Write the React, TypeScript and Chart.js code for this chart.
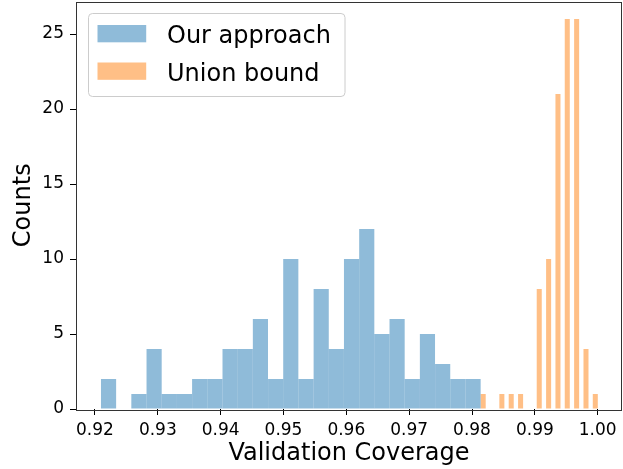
import { useEffect, useRef } from "react";
import { Chart, registerables } from "chart.js";

Chart.register(...registerables);

// Histogram bin centers and counts
const ourBinCenters = [
  0.92216, 0.92458, 0.92699, 0.92941, 0.93183, 0.93424, 0.93666, 0.93908,
  0.9415, 0.94391, 0.94633, 0.94875, 0.95116, 0.95358, 0.956, 0.95841,
  0.96083, 0.96325, 0.96566, 0.96808, 0.9705, 0.97291, 0.97533, 0.97775,
  0.98017,
];
const ourCounts = [2, 0, 1, 4, 1, 1, 2, 2, 4, 4, 6, 2, 10, 2, 8, 4, 10, 12, 5, 6, 2, 5, 3, 2, 2];

const unionBinCenters = [
  0.98178, 0.98327, 0.98475, 0.98624, 0.98773, 0.98922, 0.9907, 0.99219,
  0.99368, 0.99516, 0.99665, 0.99814, 0.99962,
];
const unionCounts = [1, 0, 1, 1, 1, 0, 8, 10, 21, 26, 26, 4, 1];

const xTickLabels = ["0.92", "0.93", "0.94", "0.95", "0.96", "0.97", "0.98", "0.99", "1.00"];
const yTickLabels = ["0", "5", "10", "15", "20", "25"];
const seriesLabels = ["Our approach", "Union bound"];
const xTitle = "Validation Coverage";
const yTitle = "Counts";

const X_MIN = 0.91698;
const X_MAX = 1.00387;
const Y_MIN = 0;
const Y_MAX = 27.17;

const FONT = '"DejaVu Sans", sans-serif';

const spinesPlugin = {
  id: "spines",
  afterDatasetsDraw(chart: any) {
    const { ctx, chartArea } = chart;
    ctx.save();
    ctx.strokeStyle = "#333333";
    ctx.lineWidth = 1;
    ctx.strokeRect(
      Math.round(chartArea.left) + 0.5,
      Math.round(chartArea.top) + 0.5,
      Math.round(chartArea.right - chartArea.left) - 1,
      Math.round(chartArea.bottom - chartArea.top)
    );
    ctx.restore();
  },
};

const legendPlugin = {
  id: "mplLegend",
  afterDraw(chart: any) {
    const { ctx, chartArea } = chart;
    const x0 = chartArea.left + 12.5;
    const y0 = chartArea.top + 12;
    const w = 256.5;
    const h = 83;
    ctx.save();
    ctx.beginPath();
    if (ctx.roundRect) ctx.roundRect(x0, y0, w, h, 4);
    else ctx.rect(x0, y0, w, h);
    ctx.fillStyle = "rgba(255,255,255,0.8)";
    ctx.fill();
    ctx.strokeStyle = "#cccccc";
    ctx.lineWidth = 1;
    ctx.stroke();
    ctx.font = `24px ${FONT}`;
    ctx.textBaseline = "alphabetic";
    ctx.textAlign = "left";
    chart.data.datasets.forEach((ds: any, i: number) => {
      const top = y0 + 11.5 + i * 37.5;
      ctx.fillStyle = ds.backgroundColor;
      ctx.fillRect(x0 + 9, top, 48.7, 17.3);
      ctx.fillStyle = "#000000";
      ctx.fillText(ds.label, x0 + 78.5, top + 18);
    });
    ctx.restore();
  },
};

export default function App() {
  const canvasRef = useRef<HTMLCanvasElement | null>(null);

  useEffect(() => {
    if (!canvasRef.current) return;
    const chart = new Chart(canvasRef.current, {
      type: "bar",
      data: {
        datasets: [
          {
            label: seriesLabels[0],
            data: ourBinCenters.map((x, i) => ({ x, y: ourCounts[i] })),
            backgroundColor: "rgba(31,119,180,0.5)",
            borderWidth: 0,
            inflateAmount: 0,
            barPercentage: 1,
            categoryPercentage: 1,
            grouped: false,
            xAxisID: "x",
            yAxisID: "y",
          },
          {
            label: seriesLabels[1],
            data: unionBinCenters.map((x, i) => ({ x, y: unionCounts[i] })),
            backgroundColor: "rgba(255,127,14,0.5)",
            borderWidth: 0,
            inflateAmount: 0,
            barPercentage: 0.54,
            categoryPercentage: 1,
            grouped: false,
            xAxisID: "x2",
            yAxisID: "y",
          },
        ] as any,
      },
      options: {
        animation: false,
        responsive: true,
        maintainAspectRatio: false,
        layout: { padding: { top: 1.5, right: 1, left: 0, bottom: 0 } },
        plugins: {
          legend: { display: false },
          tooltip: { enabled: false },
        },
        scales: {
          x: {
            type: "linear",
            position: "bottom",
            offset: false,
            min: X_MIN,
            max: X_MAX,
            afterBuildTicks: (scale: any) => {
              scale.ticks = xTickLabels.map((l) => ({ value: parseFloat(l) }));
            },
            afterFit: (scale: any) => {
              scale.height = 60;
              scale.paddingLeft = 0;
              scale.paddingRight = 0;
            },
            ticks: {
              autoSkip: false,
              maxRotation: 0,
              padding: 5,
              color: "#000000",
              font: { family: FONT, size: 17 },
              callback: (_v: any, i: number) => xTickLabels[i],
            },
            grid: {
              display: true,
              offset: false,
              drawOnChartArea: false,
              drawTicks: true,
              tickLength: 6,
              tickColor: "#000000",
              tickWidth: 1,
            },
            border: { display: false },
            title: {
              display: true,
              text: xTitle,
              color: "#000000",
              font: { family: FONT, size: 24 },
              padding: { top: 0, bottom: 1 },
            },
          },
          x2: {
            type: "linear",
            position: "bottom",
            display: false,
            offset: false,
            grid: { offset: false },
            min: X_MIN,
            max: X_MAX,
          },
          y: {
            type: "linear",
            position: "left",
            min: Y_MIN,
            max: Y_MAX,
            afterBuildTicks: (scale: any) => {
              scale.ticks = yTickLabels.map((l) => ({ value: parseFloat(l) }));
            },
            afterFit: (scale: any) => {
              scale.width = 76;
              scale.paddingTop = 0;
              scale.paddingBottom = 0;
            },
            ticks: {
              autoSkip: false,
              padding: 6,
              color: "#000000",
              font: { family: FONT, size: 17 },
              callback: (_v: any, i: number) => yTickLabels[i],
            },
            grid: {
              display: true,
              drawOnChartArea: false,
              drawTicks: true,
              tickLength: 6,
              tickColor: "#000000",
              tickWidth: 1,
            },
            border: { display: false },
            title: {
              display: true,
              text: yTitle,
              color: "#000000",
              font: { family: FONT, size: 24 },
              padding: { top: 9, bottom: 0 },
            },
          },
        },
      } as any,
      plugins: [spinesPlugin, legendPlugin],
    });
    return () => chart.destroy();
  }, []);

  return (
    <div style={{ position: "fixed", left: 0, top: 0, width: 623, height: 469, background: "#ffffff" }}>
      <canvas ref={canvasRef} />
    </div>
  );
}
